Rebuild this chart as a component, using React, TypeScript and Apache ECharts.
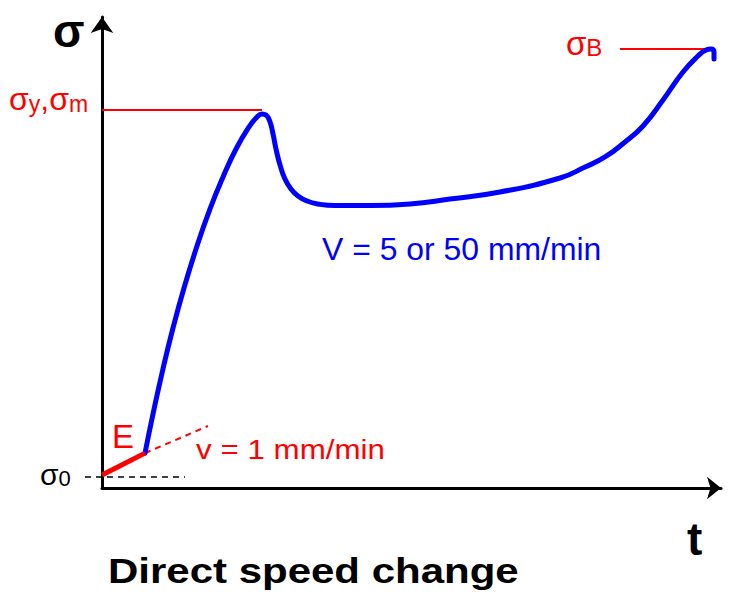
import React, { useEffect, useRef } from "react";
import * as echarts from "echarts";

// Stress–time sketch for a direct speed change test (axis units are arbitrary 0–100)
const curveT = [6.95, 8.24, 9.85, 11.47, 13.25, 15.35, 17.45, 19.55, 21.65, 23.75, 25.04, 25.85, 26.49, 27.14, 27.63, 28.11, 28.76, 29.56, 30.53, 31.66, 33.12, 34.89, 37.64, 43.3, 49.76, 56.22, 64.3, 73.99, 78.03, 81.26, 84.49, 87.4, 90.63, 93.86, 96.28, 97.58, 98.38, 98.87, 98.87];
const curveSigma = [7.4, 15.71, 25.27, 33.97, 42.46, 51.38, 59.24, 66.03, 71.97, 76.65, 78.77, 79.41, 79.19, 77.71, 75.16, 71.97, 68.58, 65.61, 63.48, 61.99, 60.93, 60.3, 59.98, 59.98, 60.3, 61.36, 62.85, 65.82, 68.15, 70.28, 73.46, 76.86, 82.38, 88.32, 91.72, 92.99, 93.21, 92.57, 91.08];

// Initial elastic segment at v = 1 mm/min and its extrapolation
const elasticT = [0, 6.95];
const elasticSigma = [2.76, 7.4];
const slopeT = [6.95, 17.12];
const slopeSigma = [7.4, 13.16];

// Reference levels
const sigma0 = 2.34;
const sigma0T = [-2.75, 13.4];
const sigmaYield = 80.25;
const sigmaYieldT = [0, 25.85];
const sigmaBreak = 93.2;
const sigmaBreakT = [83.68, 97.6];

const RED = "#ff0000";
const BLUE = "#0000ff";
const FONT = "'Liberation Sans', Arial, sans-serif";

const pairs = (xs: number[], ys: number[]) => xs.map((x, i) => [x, ys[i]]);

export default function App() {
  const ref = useRef<HTMLDivElement>(null);

  useEffect(() => {
    if (!ref.current) return;
    const chart = echarts.init(ref.current, undefined, { renderer: "svg" });

    const sub = (fontSize: number, fill: string) => ({
      fontSize,
      lineHeight: 10,
      verticalAlign: "bottom",
      fontFamily: FONT,
      fill,
    });

    const hidden = {
      axisTick: { show: false },
      axisLabel: { show: false },
      splitLine: { show: false },
    };

    chart.setOption({
      animation: false,
      backgroundColor: "#ffffff",
      grid: { left: 102, top: 17, width: 619, height: 471, containLabel: false },
      xAxis: {
        type: "value",
        min: 0,
        max: 100,
        axisLine: {
          show: true,
          symbol: ["none", "arrow"],
          symbolSize: [17, 14],
          lineStyle: { color: "#000", width: 3 },
        },
        ...hidden,
      },
      yAxis: {
        type: "value",
        min: 0,
        max: 100,
        axisLine: {
          show: true,
          symbol: ["none", "arrow"],
          symbolSize: [17, 16],
          lineStyle: { color: "#000", width: 3 },
        },
        ...hidden,
      },
      series: [
        {
          name: "yield",
          type: "line",
          data: pairs(sigmaYieldT, [sigmaYield, sigmaYield]),
          symbol: "none",
          clip: false,
          lineStyle: { color: RED, width: 2 },
          z: 1,
        },
        {
          name: "break",
          type: "line",
          data: pairs(sigmaBreakT, [sigmaBreak, sigmaBreak]),
          symbol: "none",
          clip: false,
          lineStyle: { color: RED, width: 2 },
          z: 1,
        },
        {
          name: "slope",
          type: "line",
          data: pairs(slopeT, slopeSigma),
          symbol: "none",
          clip: false,
          lineStyle: { color: RED, width: 2, type: [6, 5] },
          z: 2,
        },
        {
          name: "curve",
          type: "line",
          data: pairs(curveT, curveSigma),
          symbol: "none",
          smooth: 0.5,
          clip: false,
          lineStyle: { color: BLUE, width: 5, cap: "round", join: "round" },
          z: 3,
        },
        {
          name: "elastic",
          type: "line",
          data: pairs(elasticT, elasticSigma),
          symbol: "none",
          clip: false,
          lineStyle: { color: RED, width: 5 },
          z: 4,
        },
      ],
    });

    // σ0 guide starts left of the stress axis, so it is placed through the axis scales
    const p0 = chart.convertToPixel({ gridIndex: 0 }, [sigma0T[0], sigma0]) as number[];
    const p1 = chart.convertToPixel({ gridIndex: 0 }, [sigma0T[1], sigma0]) as number[];

    chart.setOption({
      graphic: [
        {
          type: "line",
          shape: { x1: p0[0], y1: p0[1], x2: p1[0], y2: p1[1] },
          style: { stroke: "#000", lineWidth: 1.5, lineDash: [6, 5] },
          z: 1,
        },
        {
          type: "text",
          x: 53,
          y: 31,
          style: { text: "σ", fontSize: 46, fontWeight: "bold", fontFamily: FONT, fill: "#000", verticalAlign: "middle" },
        },
        {
          type: "text",
          x: 687,
          y: 539,
          style: { text: "t", fontSize: 46, fontWeight: "bold", fontFamily: FONT, fill: "#000", verticalAlign: "middle" },
        },
        {
          type: "text",
          x: 9,
          y: 99,
          style: {
            text: "{a|σ}{s|y}{a|,σ}{s|m}",
            fill: RED,
            verticalAlign: "middle",
            rich: {
              a: { fontSize: 32, lineHeight: 32, fontFamily: FONT, fill: RED },
              s: sub(23, RED),
            },
          },
        },
        {
          type: "text",
          x: 566,
          y: 43,
          style: {
            text: "{a|σ}{s|B}",
            fill: RED,
            verticalAlign: "middle",
            rich: {
              a: { fontSize: 33, lineHeight: 33, fontFamily: FONT, fill: RED },
              s: sub(24, RED),
            },
          },
        },
        {
          type: "text",
          x: 40,
          y: 474,
          style: {
            text: "{a|σ}{s|0}",
            fill: "#000",
            verticalAlign: "middle",
            rich: {
              a: { fontSize: 30, lineHeight: 30, fontFamily: FONT, fill: "#000" },
              s: sub(22, "#000"),
            },
          },
        },
        {
          type: "text",
          x: 112,
          y: 436,
          style: { text: "E", fontSize: 33, fontFamily: FONT, fill: RED, verticalAlign: "middle" },
        },
        {
          type: "text",
          x: 196,
          y: 449,
          scaleX: 1.12,
          style: { text: "v = 1 mm/min", fontSize: 28, fontFamily: FONT, fill: RED, verticalAlign: "middle" },
        },
        {
          type: "text",
          x: 322,
          y: 250,
          scaleX: 1.03,
          style: { text: "V = 5 or 50 mm/min", fontSize: 31, fontFamily: FONT, fill: BLUE, verticalAlign: "middle" },
        },
        {
          type: "text",
          x: 108,
          y: 571,
          scaleX: 1.2,
          style: { text: "Direct speed change", fontSize: 35, fontWeight: "bold", fontFamily: FONT, fill: "#000", verticalAlign: "middle" },
        },
      ],
    });

    return () => chart.dispose();
  }, []);

  return (
    <div
      ref={ref}
      style={{ position: "fixed", left: 0, top: 0, width: 729, height: 595, background: "#fff" }}
    />
  );
}
